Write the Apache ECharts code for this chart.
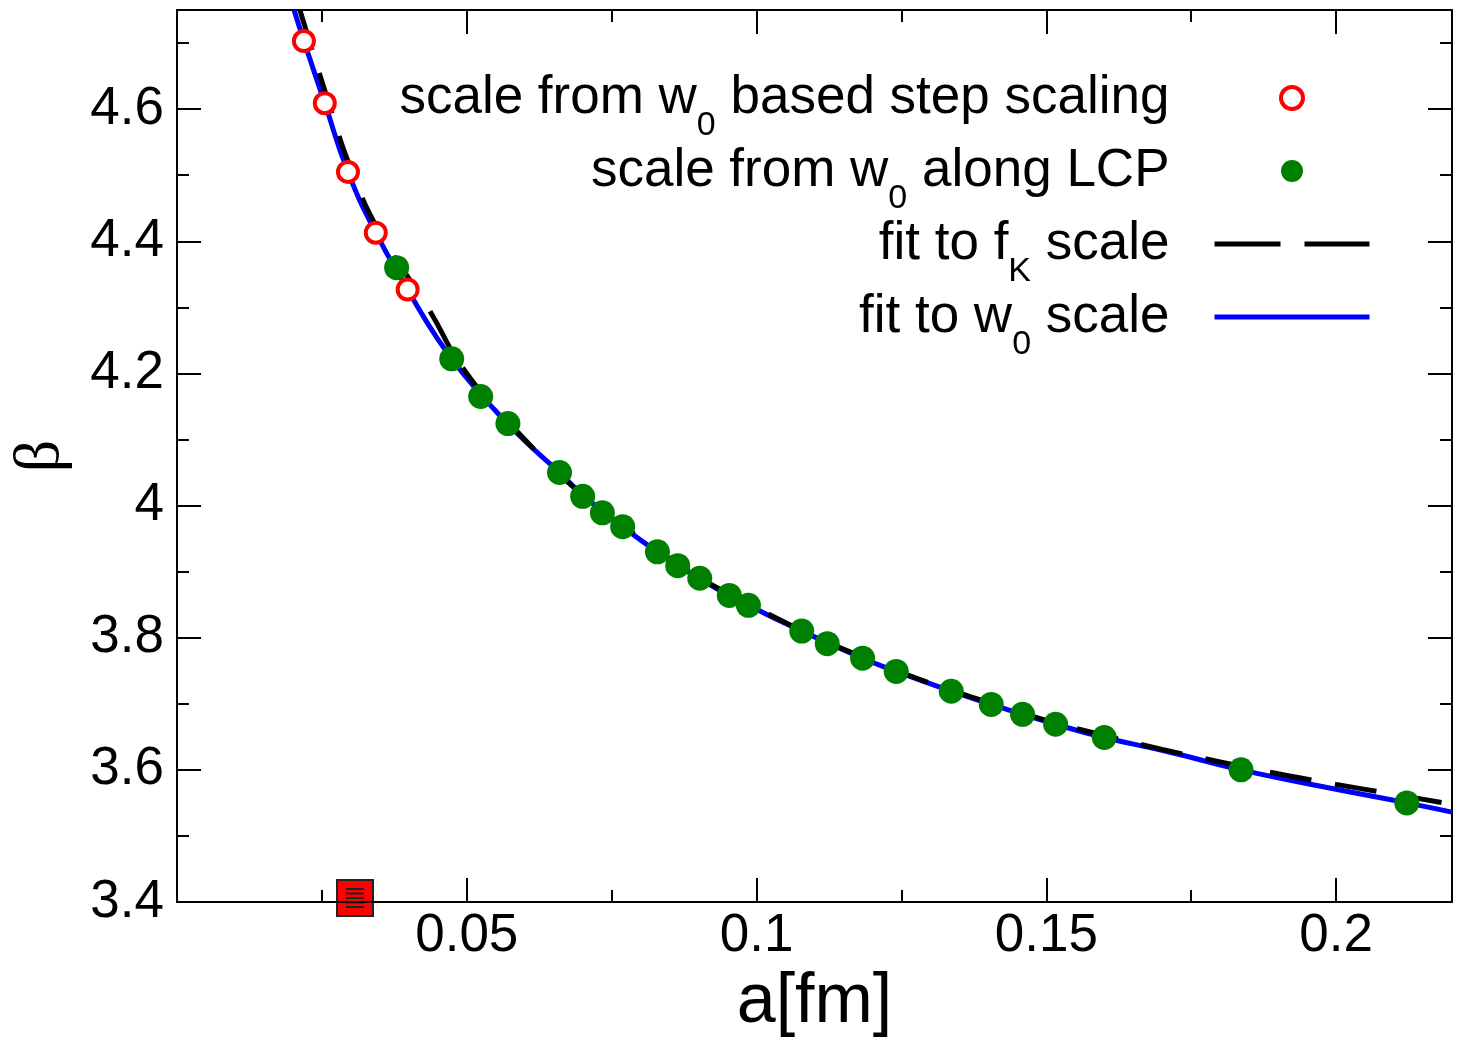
<!DOCTYPE html>
<html>
<head>
<meta charset="utf-8">
<script src="https://cdn.jsdelivr.net/npm/echarts@6/dist/echarts.min.js"></script>
<style>
  html, body { margin: 0; padding: 0; background: #fff; }
  #main { width: 1463px; height: 1054px; }
</style>
</head>
<body>
<div id="main"></div>
<script>
// red open circles: scale from w0 based step scaling
var stepA    = [0.0219, 0.0255, 0.0295, 0.0343, 0.0398];
var stepBeta = [4.703, 4.609, 4.505, 4.413, 4.327];

// green dots: scale from w0 along LCP
var lcpA    = [0.0379, 0.0474, 0.0524, 0.0571, 0.0660, 0.0700, 0.0734, 0.0769, 0.0829, 0.0864, 0.0902, 0.0953,
               0.0986, 0.1078, 0.1122, 0.1183, 0.1241, 0.1336, 0.1405, 0.1459, 0.1516, 0.1600, 0.1836, 0.2122];
var lcpBeta = [4.360, 4.222, 4.165, 4.124, 4.050, 4.014, 3.989, 3.968, 3.930, 3.909, 3.890, 3.864,
               3.849, 3.810, 3.791, 3.769, 3.749, 3.719, 3.699, 3.684, 3.669, 3.649, 3.600, 3.550];

// black dashed: fit to fK scale
var fkA    = [0.0212, 0.0262, 0.0302, 0.0350, 0.0431, 0.050, 0.060, 0.070, 0.080, 0.090, 0.100, 0.110,
              0.120, 0.130, 0.140, 0.150, 0.160, 0.170, 0.180, 0.190, 0.200, 0.210, 0.220];
var fkBeta = [4.750, 4.609, 4.505, 4.413, 4.302, 4.200, 4.100, 4.016, 3.950, 3.892, 3.845, 3.802,
              3.765, 3.731, 3.702, 3.675, 3.652, 3.631, 3.612, 3.594, 3.578, 3.563, 3.548];

// blue solid: fit to w0 scale
var w0A    = [0.0202, 0.0219, 0.0255, 0.0295, 0.0343, 0.0398, 0.045, 0.050, 0.055, 0.060, 0.066, 0.070,
              0.0769, 0.0829, 0.090, 0.0986, 0.1078, 0.1183, 0.1241, 0.1336, 0.1405, 0.1516, 0.160, 0.1712,
              0.1836, 0.198, 0.2122, 0.220];
var w0Beta = [4.750, 4.703, 4.609, 4.505, 4.413, 4.327, 4.252, 4.193, 4.143, 4.098, 4.050, 4.016,
              3.968, 3.930, 3.890, 3.849, 3.810, 3.769, 3.749, 3.719, 3.699, 3.669, 3.649, 3.627,
              3.600, 3.574, 3.550, 3.536];

var names = ['scale from w0 based step scaling', 'scale from w0 along LCP', 'fit to fK scale', 'fit to w0 scale'];
var richNames = {};
richNames[names[0]] = 'scale from w{s|0} based step scaling';
richNames[names[1]] = 'scale from w{s|0} along LCP';
richNames[names[2]] = 'fit to f{s|K} scale';
richNames[names[3]] = 'fit to w{s|0} scale';

function zip(a, b) {
  return a.map(function (v, i) { return [v, b[i]]; });
}

var FONT = '"Liberation Sans", Arial, Helvetica, sans-serif';
var black = '#000';
var hidden = { color: 'rgba(0,0,0,0)', borderWidth: 0, opacity: 0 };

function xAx(pos, interval, major) {
  return {
    type: 'value', position: pos, min: 0, max: 0.22, interval: interval,
    axisLine: { show: major, onZero: false, lineStyle: { color: black, width: 2 } },
    axisTick: { show: true, inside: true, length: major ? 24 : 12, lineStyle: { color: black, width: 2 } },
    axisLabel: { show: false },
    splitLine: { show: false }
  };
}
function yAx(pos, interval, major) {
  return {
    type: 'value', position: pos, min: 3.4, max: 4.75, interval: interval,
    axisLine: { show: major, onZero: false, lineStyle: { color: black, width: 2 } },
    axisTick: { show: true, inside: true, length: major ? 24 : 12, lineStyle: { color: black, width: 2 } },
    axisLabel: { show: false },
    splitLine: { show: false }
  };
}

var xMain = xAx('bottom', 0.05, true);
xMain.axisLabel = { show: true, fontSize: 53, fontFamily: FONT, color: black, margin: 8,
                    showMinLabel: false, showMaxLabel: false };
xMain.name = 'a[fm]';
xMain.nameLocation = 'middle';
xMain.nameGap = 66;
xMain.nameTextStyle = { fontSize: 70, fontFamily: FONT, color: black };

var yMain = yAx('left', 0.2, true);
yMain.axisLabel = { show: true, fontSize: 53, fontFamily: FONT, color: black, margin: 13,
                    showMaxLabel: false };
yMain.name = 'β';
yMain.nameLocation = 'middle';
yMain.nameGap = 104;
yMain.nameTextStyle = { fontSize: 64, fontFamily: '"Liberation Serif", "DejaVu Serif", serif', color: black };

var chart = echarts.init(document.getElementById('main'));
var option = {
  animation: false,
  backgroundColor: '#fff',
  grid: { left: 177, right: 11, top: 10, bottom: 152, containLabel: false },
  xAxis: [xMain, xAx('bottom', 0.025, false), xAx('top', 0.05, true), xAx('top', 0.025, false)],
  yAxis: [yMain, yAx('left', 0.1, false), yAx('right', 0.2, true), yAx('right', 0.1, false)],
  legend: {
    orient: 'vertical',
    align: 'right',
    right: 86,
    top: 48,
    itemWidth: 155,
    itemHeight: 22,
    itemGap: -17,
    selectedMode: false,
    data: [
      { name: names[0], itemStyle: { color: '#fff', borderColor: '#ff0000', borderWidth: 4 } },
      { name: names[1] },
      { name: names[2], lineStyle: { type: [66, 24], width: 5, color: black }, itemStyle: hidden },
      { name: names[3], lineStyle: { type: 'solid', width: 5, color: '#0000ff' }, itemStyle: hidden }
    ],
    formatter: function (name) { return richNames[name]; },
    textStyle: {
      fontSize: 53, fontFamily: FONT, color: black, lineHeight: 60,
      padding: [0, 40, 0, 0],
      rich: { s: { fontSize: 34, fontFamily: FONT, color: black, lineHeight: 34, padding: [56, 0, 0, 0] } }
    }
  },
  series: [
    {
      name: names[3], type: 'line', smooth: true, symbol: 'none', z: 2,
      lineStyle: { color: '#0000ff', width: 5 },
      itemStyle: { color: '#0000ff' },
      data: zip(w0A, w0Beta)
    },
    {
      name: names[2], type: 'line', smooth: true, symbol: 'none', z: 3,
      lineStyle: { color: black, width: 5, type: [42, 24] },
      itemStyle: { color: black },
      data: zip(fkA, fkBeta)
    },
    {
      name: names[1], type: 'scatter', symbol: 'circle', symbolSize: 25, z: 4,
      itemStyle: { color: '#008000', opacity: 1 },
      data: zip(lcpA, lcpBeta)
    },
    {
      name: names[0], type: 'scatter', symbol: 'circle', symbolSize: 20, z: 5,
      itemStyle: { color: '#fff', borderColor: '#ff0000', borderWidth: 4, opacity: 1 },
      data: zip(stepA, stepBeta)
    }
  ],
  graphic: [{
    type: 'group', left: 336, top: 879, z: 100,
    children: [
      { type: 'rect', shape: { x: 0, y: 0, width: 36, height: 36 }, style: { fill: '#ff0000', stroke: '#222', lineWidth: 2 } },
      { type: 'line', shape: { x1: 9, y1: 9, x2: 27, y2: 9 }, style: { stroke: '#222', lineWidth: 2 } },
      { type: 'line', shape: { x1: 9, y1: 13.5, x2: 27, y2: 13.5 }, style: { stroke: '#222', lineWidth: 2 } },
      { type: 'line', shape: { x1: 9, y1: 18, x2: 27, y2: 18 }, style: { stroke: '#222', lineWidth: 2 } },
      { type: 'line', shape: { x1: 9, y1: 22.5, x2: 27, y2: 22.5 }, style: { stroke: '#222', lineWidth: 2 } },
      { type: 'line', shape: { x1: 9, y1: 27, x2: 27, y2: 27 }, style: { stroke: '#222', lineWidth: 2 } }
    ]
  }]
};
chart.setOption(option);
</script>
</body>
</html>
